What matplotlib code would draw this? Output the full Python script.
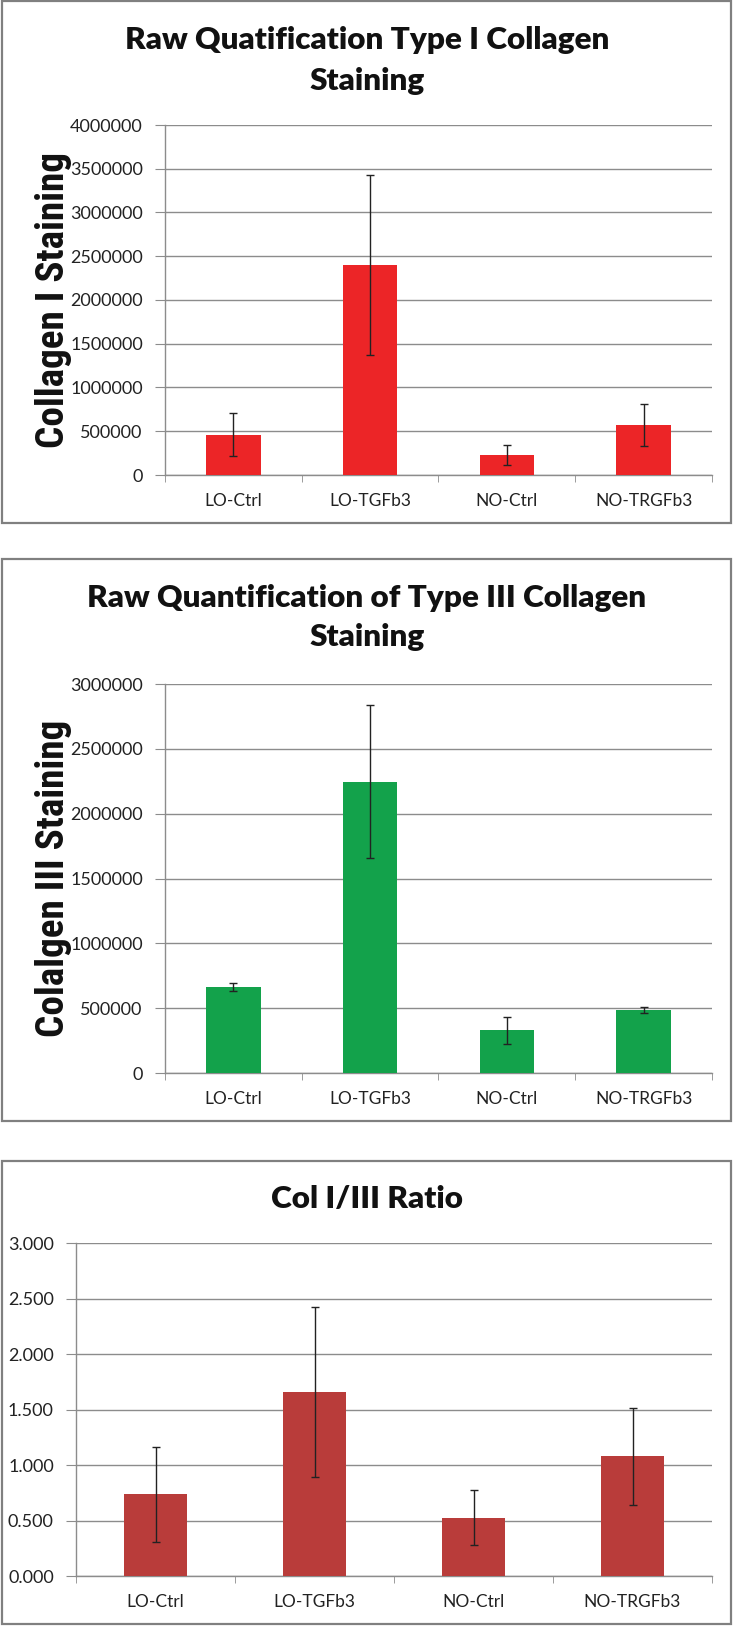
# Collagen staining panels (type I, type III, I/III ratio)
import numpy as np
import matplotlib.pyplot as plt
from matplotlib import font_manager
from matplotlib.patches import Rectangle
from matplotlib.ticker import FuncFormatter, MultipleLocator

groups = ['LO-Ctrl', 'LO-TGFb3', 'NO-Ctrl', 'NO-TRGFb3']

col1_mean = [460000, 2400000, 228000, 571000]
col1_err = [245000, 1030000, 117000, 244000]

col3_mean = [666000, 2246000, 330000, 487000]
col3_err = [30000, 590000, 104000, 22000]

ratio_mean = [0.736, 1.657, 0.527, 1.078]
ratio_err = [0.428, 0.767, 0.252, 0.436]

names = {f.name for f in font_manager.fontManager.ttflist}
narrow = 'DejaVu Sans'
for cand in ['Liberation Sans Narrow', 'Arial Narrow', 'Roboto Condensed',
             'Open Sans Condensed', 'DejaVu Sans Condensed']:
    if cand in names:
        narrow = cand
        break
plt.rcParams['font.family'] = ['Lato', 'DejaVu Sans']

W, H = 734, 1626
fig = plt.figure(figsize=(W / 100, H / 100), dpi=100)
renderer = fig.canvas.get_renderer()

def px_axes(left, right, top, bottom):
    return fig.add_axes([left / W, 1 - bottom / H, (right - left) / W, (bottom - top) / H])

def frame(top, bottom):
    fig.patches.append(Rectangle((2 / W, 1 - bottom / H), 729 / W, (bottom - top) / H,
                                 transform=fig.transFigure, fill=False,
                                 edgecolor='#808080', linewidth=1.6))

def fit(t, target, vertical=False):
    bb = t.get_window_extent(renderer)
    size = t.get_fontsize() * target / (bb.height if vertical else bb.width)
    t.set_fontsize(size)
    return size

def panel(ax, vals, errs, color, ymax, step, fmt):
    x = np.arange(len(groups))
    ax.bar(x, vals, width=0.4, color=color, zorder=3)
    ax.errorbar(x, vals, yerr=errs, fmt='none', ecolor='#222222', elinewidth=1,
                capsize=3, capthick=1, zorder=4)
    ax.set_xlim(-0.5, len(groups) - 0.5)
    ax.set_ylim(0, ymax)
    ax.yaxis.set_major_locator(MultipleLocator(step))
    ax.yaxis.set_major_formatter(FuncFormatter(fmt))
    ax.grid(axis='y', color='#8c8c8c', linewidth=1, zorder=0)
    ax.set_xticks(x)
    ax.set_xticklabels(groups)
    ax.set_xticks(np.arange(len(groups) + 1) - 0.5, minor=True)
    ax.tick_params(axis='x', which='major', length=0, pad=13, labelsize=12.5, colors='#222222')
    ax.tick_params(axis='x', which='minor', length=5, color='#8c8c8c')
    ax.tick_params(axis='y', length=7, color='#8c8c8c', pad=9, labelsize=13, labelcolor='#222222')
    for s in ['top', 'right']:
        ax.spines[s].set_visible(False)
    for s in ['left', 'bottom']:
        ax.spines[s].set_color('#8c8c8c')
        ax.spines[s].set_linewidth(1)

tkw = dict(ha='center', va='center', fontsize=20, fontweight='heavy', color='#111111')
ykw = dict(rotation=90, ha='center', va='center', fontsize=29, fontweight='bold',
           family=narrow, fontstretch='condensed', color='#111111')

# panel 1
frame(1, 523)
ax1 = px_axes(165, 712, 125, 475)
panel(ax1, col1_mean, col1_err, '#ec2527', 4000000, 500000, lambda v, p: '%d' % v)
t1 = fig.text(367 / W, 1 - 40 / H, 'Raw Quatification Type I Collagen', **tkw)
tsize = fit(t1, 485)
tkw['fontsize'] = tsize
fig.text(367 / W, 1 - 81 / H, 'Staining', **tkw)
y1 = fig.text(54 / W, 1 - 300 / H, 'Collagen I Staining', **ykw)
ykw['fontsize'] = fit(y1, 295, vertical=True)

# panel 2
frame(559, 1121)
ax2 = px_axes(165, 712, 684, 1073)
panel(ax2, col3_mean, col3_err, '#13a24b', 3000000, 500000, lambda v, p: '%d' % v)
fig.text(367 / W, 1 - 598 / H, 'Raw Quantification of Type III Collagen', **tkw)
fig.text(367 / W, 1 - 637 / H, 'Staining', **tkw)
fig.text(54 / W, 1 - 878 / H, 'Colalgen III Staining', **ykw)

# panel 3
frame(1161, 1624)
ax3 = px_axes(76, 712, 1243, 1576)
panel(ax3, ratio_mean, ratio_err, '#b93c3a', 3.0, 0.5, lambda v, p: '%.3f' % v)
fig.text(367 / W, 1 - 1199 / H, 'Col I/III Ratio', **tkw)

fig.savefig('out.png', dpi=100)
